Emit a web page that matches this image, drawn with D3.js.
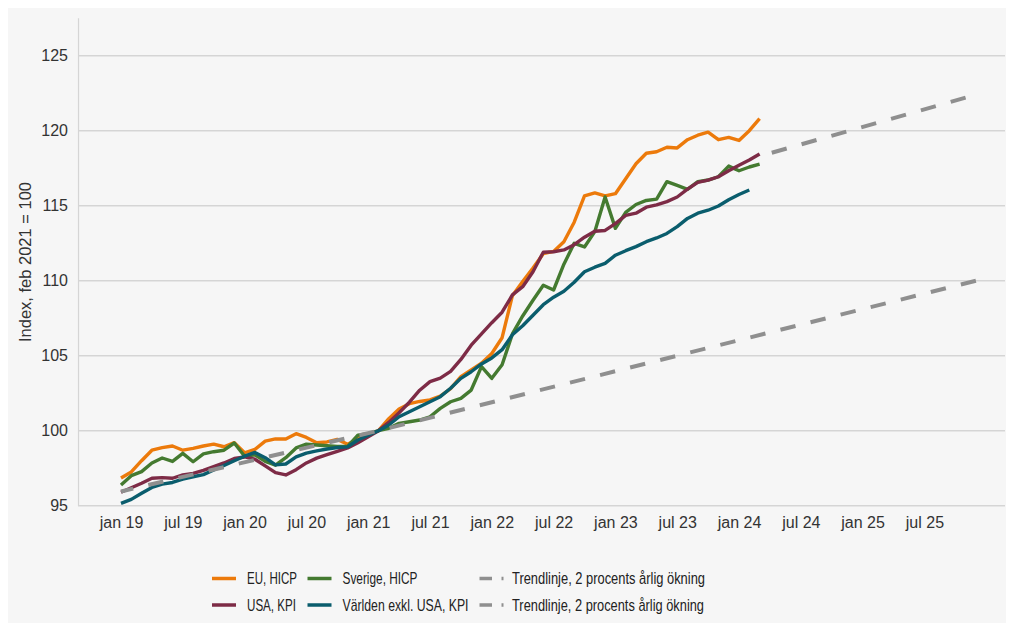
<!DOCTYPE html>
<html>
<head>
<meta charset="utf-8">
<script src="https://cdn.jsdelivr.net/npm/d3@7"></script>
<style>
  body { margin: 0; background: #fff; }
  svg { display: block; }
</style>
</head>
<body>
<script>
// tick labels (one every six months, starting jan 2019 = month 0)
const xTickLabels = ["jan 19", "jul 19", "jan 20", "jul 20", "jan 21", "jul 21", "jan 22",
                     "jul 22", "jan 23", "jul 23", "jan 24", "jul 24", "jan 25", "jul 25"]
const yTicks = [95, 100, 105, 110, 115, 120, 125]

// monthly index values, feb 2021 = 100, first value = jan 2019
const euHicp = [96.85, 97.25, 98.0, 98.7, 98.87, 98.98, 98.7, 98.82, 98.98, 99.1, 98.93, 99.2,
  98.53, 98.75, 99.3, 99.45, 99.45, 99.8, 99.55, 99.2, 99.25, 99.42, 99.1, 99.45,
  99.7, 100.0, 100.8, 101.45, 101.8, 101.95, 102.05, 102.3, 102.8, 103.6, 104.05, 104.5,
  105.15, 106.2, 109.0, 109.95, 110.85, 111.8, 111.95, 112.6, 113.9, 115.65, 115.85, 115.65,
  115.8, 116.8, 117.8, 118.5, 118.6, 118.9, 118.85, 119.4, 119.7, 119.9, 119.4, 119.55,
  119.35, 120.0, 120.8]
const sverigeHicp = [96.38, 97.0, 97.27, 97.85, 98.18, 97.95, 98.49, 97.93, 98.45, 98.6, 98.7, 99.18,
  98.3, 98.4, 97.95, 97.7, 98.2, 98.85, 99.1, 99.05, 99.0, 98.95, 98.95, 99.7,
  99.8, 100.0, 100.16, 100.49, 100.6, 100.71, 100.93, 101.49, 101.93, 102.16, 102.71, 104.27,
  103.49, 104.4, 106.45, 107.65, 108.7, 109.7, 109.38, 111.1, 112.49, 112.25, 113.27, 115.58,
  113.49, 114.55, 115.08, 115.35, 115.44, 116.6, 116.35, 116.09, 116.6, 116.71, 116.93, 117.64,
  117.33, 117.58, 117.77]
const usaKpi = [95.9, 96.2, 96.5, 96.83, 96.87, 96.83, 97.05, 97.15, 97.35, 97.6, 97.85, 98.15,
  98.25, 98.1, 97.65, 97.2, 97.05, 97.4, 97.85, 98.17, 98.4, 98.62, 98.85, 99.2,
  99.6, 100.0, 100.55, 101.2, 101.9, 102.7, 103.27, 103.5, 103.95, 104.75, 105.7, 106.45,
  107.2, 107.9, 109.05, 109.6, 110.6, 111.9, 111.93, 112.05, 112.4, 112.9, 113.3, 113.35,
  113.8, 114.35, 114.5, 114.9, 115.05, 115.27, 115.58, 116.1, 116.55, 116.7, 116.93, 117.33,
  117.7, 118.05, 118.45]
const varldenKpi = [95.16, 95.42, 95.83, 96.22, 96.44, 96.55, 96.77, 96.93, 97.07, 97.38, 97.68, 98.0,
  98.3, 98.55, 98.2, 97.72, 97.78, 98.25, 98.5, 98.65, 98.78, 98.88, 98.92, 99.38,
  99.7, 100.0, 100.38, 100.93, 101.27, 101.6, 101.93, 102.27, 102.83, 103.49, 103.93, 104.45,
  104.85, 105.4, 106.4, 107.0, 107.7, 108.4, 108.9, 109.3, 109.9, 110.6, 110.9, 111.15,
  111.7, 112.0, 112.27, 112.6, 112.85, 113.15, 113.6, 114.15, 114.5, 114.7, 114.98, 115.4,
  115.75, 116.05]

// trend lines, 2 % per year: [month, value]
const trendLow = [[0, 95.95], [25, 100], [83, 110.0]]
const trendHigh = [[62, 118.3], [82, 122.2]]

const seriesNames = ["EU, HICP", "Sverige, HICP", "USA, KPI", "Världen exkl. USA, KPI"]
const seriesColors = ["#ec7a0b", "#447a30", "#7d2b46", "#0a5d6d"]
const trendName = "Trendlinje, 2 procents årlig ökning"

const w = 1014
const h = 631

const x = d3.scaleLinear().domain([0, 60]).range([121, 739])
const y = d3.scaleLinear().domain([95, 125]).range([505.7, 55.7])

const svg = d3.select("body")
              .append("svg")
              .attr("width", w)
              .attr("height", h)

svg.append("rect")
   .attr("x", 8).attr("y", 8)
   .attr("width", 998).attr("height", 615)
   .attr("fill", "#f6f6f6")

// gridlines
svg.selectAll(".grid")
   .data(yTicks)
   .enter()
   .append("line")
   .attr("class", "grid")
   .attr("x1", 78).attr("x2", 1005)
   .attr("y1", (d) => y(d)).attr("y2", (d) => y(d))
   .attr("stroke", "#d5d5d5")
   .attr("stroke-width", 1.5)

svg.append("line")
   .attr("x1", 78.5).attr("x2", 78.5)
   .attr("y1", y(127.5)).attr("y2", y(95))
   .attr("stroke", "#d5d5d5")
   .attr("stroke-width", 1.2)

// y axis labels
const yAxis = d3.axisLeft(y).tickValues(yTicks).tickSize(0).tickPadding(10)
svg.append("g")
   .attr("id", "y-axis")
   .attr("transform", "translate(78, 0)")
   .call(yAxis)
   .call((g) => g.select(".domain").remove())
   .selectAll("text")
   .attr("font-family", "'Liberation Sans', Arial, sans-serif")
   .attr("font-size", 16)
   .attr("fill", "#333")

// x axis labels
const xAxis = d3.axisBottom(x)
                .tickValues(xTickLabels.map((d, i) => i * 6))
                .tickFormat((d, i) => xTickLabels[i])
                .tickSize(0)
                .tickPadding(11)
svg.append("g")
   .attr("id", "x-axis")
   .attr("transform", "translate(0, " + y(95) + ")")
   .call(xAxis)
   .call((g) => g.select(".domain").remove())
   .selectAll("text")
   .attr("font-family", "'Liberation Sans', Arial, sans-serif")
   .attr("font-size", 16)
   .attr("fill", "#333")

svg.append("text")
   .attr("transform", "translate(27, 262) rotate(-90)")
   .attr("text-anchor", "middle")
   .attr("dominant-baseline", "middle")
   .attr("font-family", "'Liberation Sans', Arial, sans-serif")
   .attr("font-size", 16.5)
   .attr("fill", "#333")
   .text("Index, feb 2021 = 100")

// data lines
const line = d3.line()
               .x((d, i) => x(i))
               .y((d) => y(d))
const series = [euHicp, sverigeHicp, usaKpi, varldenKpi]
svg.selectAll(".series")
   .data(series)
   .enter()
   .append("path")
   .attr("class", "series")
   .attr("d", (d) => line(d))
   .attr("fill", "none")
   .attr("stroke", (d, i) => seriesColors[i])
   .attr("stroke-width", 3.4)
   .attr("stroke-linejoin", "round")

// trend lines, drawn from their right end so the dash pattern ends on a dash
const trendLine = d3.line()
                    .x((d) => x(d[0]))
                    .y((d) => y(d[1]))
svg.selectAll(".trend")
   .data([trendLow.slice().reverse(), trendHigh.slice().reverse()])
   .enter()
   .append("path")
   .attr("class", "trend")
   .attr("d", (d) => trendLine(d))
   .attr("fill", "none")
   .attr("stroke", "#8f8f8f")
   .attr("stroke-width", 4)
   .attr("stroke-dasharray", "15.5,15.5")

// legend (the original uses a condensed face, so text is squeezed to its width)
const legendItems = [
  {name: seriesNames[0], color: seriesColors[0], col: 0, row: 0, tw: 50},
  {name: seriesNames[1], color: seriesColors[1], col: 1, row: 0, tw: 75},
  {name: trendName, color: "#8f8f8f", col: 2, row: 0, dash: true, tw: 193},
  {name: seriesNames[2], color: seriesColors[2], col: 0, row: 1, tw: 49},
  {name: seriesNames[3], color: seriesColors[3], col: 1, row: 1, tw: 126},
  {name: trendName, color: "#8f8f8f", col: 2, row: 1, dash: true, tw: 192}
]
const colX = [212, 307.5, 479.5]
const rowY = [578.5, 605]
const legend = svg.selectAll(".legend")
                  .data(legendItems)
                  .enter()
                  .append("g")
                  .attr("class", "legend")
                  .attr("transform", (d) => "translate(" + colX[d.col] + ", " + rowY[d.row] + ")")
legend.append("line")
      .attr("x1", 0).attr("x2", 24)
      .attr("y1", 0).attr("y2", 0)
      .attr("stroke", (d) => d.color)
      .attr("stroke-width", 3.5)
      .attr("stroke-dasharray", (d) => d.dash ? "12.5,9.5" : null)
legend.append("text")
      .attr("x", (d) => d.dash ? 32.5 : 35)
      .attr("y", 0)
      .attr("dominant-baseline", "central")
      .attr("font-family", "'Liberation Sans', Arial, sans-serif")
      .attr("font-size", 17)
      .attr("textLength", (d) => d.tw)
      .attr("lengthAdjust", "spacingAndGlyphs")
      .attr("fill", "#222")
      .text((d) => d.name)
</script>
</body>
</html>
